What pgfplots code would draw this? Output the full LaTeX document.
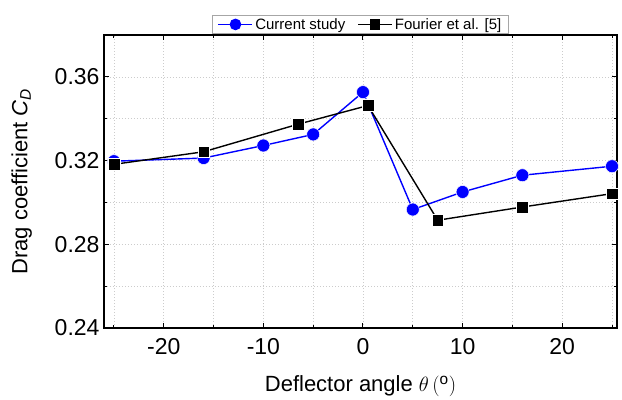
\documentclass[border=0pt]{standalone}
\usepackage{pgfplots}
\pgfplotsset{compat=1.18}
\usepackage{fontspec}
\setmainfont{Liberation Sans}
\begin{document}
\begin{tikzpicture}
\useasboundingbox (-104bp,-72bp) rectangle (518bp,328bp);
\begin{axis}[
  at={(0,0)}, anchor=south west,
  scale only axis,
  width=513bp, height=293bp,
  xmin=-26, xmax=25.5,
  ymin=0.24, ymax=0.38,
  xtick={-20,-10,0,10,20},
  minor xtick={-25,-15,-5,5,15,25},
  ytick={0.24,0.28,0.32,0.36},
  minor ytick={0.26,0.30,0.34,0.38},
  tick align=inside,
  major tick length=5bp,
  minor tick length=3bp,
  every tick/.style={black, line width=1bp},
  axis line style={line width=1.3bp},
  grid=both,
  major grid style={dash pattern=on 1bp off 2bp, gray!40, line width=0.6bp},
  minor grid style={dash pattern=on 1bp off 2bp, gray!40, line width=0.6bp},
  /pgf/number format/assume math mode=true,
  yticklabel style={/pgf/number format/fixed, /pgf/number format/fixed zerofill, /pgf/number format/precision=2},
  ticklabel style={font=\fontsize{23bp}{27bp}\selectfont},
  xticklabel style={yshift=-7bp},
  yticklabel style={xshift=-1bp},
  xlabel={Deflector angle $\theta\,(^{\mathrm{o}})$},
  ylabel={Drag coefficient \textit{C}\textsubscript{\textit{D}}},
  label style={font=\fontsize{22bp}{26bp}\selectfont},
  xlabel style={yshift=-14bp},
  ylabel style={yshift=16bp},
  legend style={at={(0.5,1)}, anchor=south, yshift=1bp, draw=gray!70, line width=0.8bp,
    font=\fontsize{15bp}{18bp}\selectfont, legend columns=2,
    /tikz/every even column/.append style={column sep=10bp},
    inner ysep=1bp, inner xsep=5bp},
  legend image code/.code={%
    \draw[line width=1.6bp, mark repeat=2,mark phase=2] plot coordinates {(0bp,0bp) (17bp,0bp) (34bp,0bp)};},
]
\addlegendimage{blue, mark=*, mark size=5bp, mark options={fill=blue, draw=blue}}
\addlegendentry{Current study}
\addlegendimage{black, mark=square*, mark size=4.5bp, mark options={fill=black}}
\addlegendentry{Fourier et al. [5]}
\addplot[forget plot, blue, line width=1.4bp, mark=*, mark size=6.5bp,
  mark options={fill=blue, draw=white, line width=0.5bp}] coordinates {
  (-25,0.3197) (-16,0.3212) (-10,0.3272) (-5,0.3325) (0,0.3527)
  (5,0.2966) (10,0.3050) (16,0.3130) (25,0.3173)
};
\addplot[forget plot, black, line width=1.4bp, mark=square*, mark size=5.8bp,
  mark options={fill=black, draw=white, line width=0.5bp}] coordinates {
  (-25,0.3182) (-16,0.3242) (-6.5,0.3374) (0.5,0.3463)
  (7.5,0.2915) (16,0.2978) (25,0.3042)
};
\end{axis}
\end{tikzpicture}
\end{document}
